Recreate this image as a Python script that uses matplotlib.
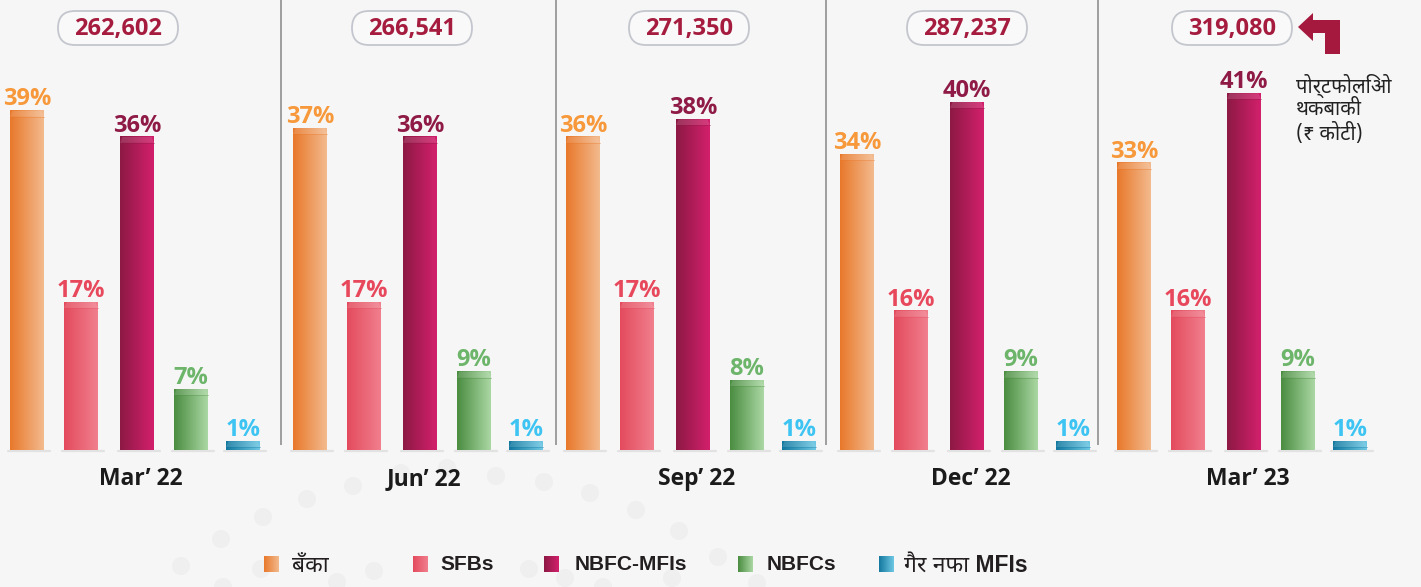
import numpy as np
import matplotlib
matplotlib.use("Agg")
import matplotlib.pyplot as plt
from matplotlib.colors import LinearSegmentedColormap, to_rgb
from matplotlib.patches import FancyBboxPatch, Polygon, Circle

# ---------------- data ----------------
periods = ["Mar’ 22", "Jun’ 22", "Sep’ 22", "Dec’ 22", "Mar’ 23"]
totals = [262602, 266541, 271350, 287237, 319080]
series_names = ["बँका", "SFBs", "NBFC-MFIs", "NBFCs", "गैर नफा MFIs"]
banks = [39, 37, 36, 34, 33]
sfbs = [17, 17, 17, 16, 16]
nbfc_mfis = [36, 36, 38, 40, 41]
nbfcs = [7, 9, 8, 9, 9]
non_profit_mfis = [1, 1, 1, 1, 1]
note_text = "पोर्टफोलिओ\nथकबाकी\n(₹ कोटी)"

series_values = [banks, sfbs, nbfc_mfis, nbfcs, non_profit_mfis]

# ---------------- styles ----------------
grad_left = ["#E8782A", "#E34B5D", "#8C1944", "#4A8C40", "#13789F"]
grad_right = ["#F3BA8E", "#F17F8E", "#D3206C", "#ABD8A4", "#6FC8E4"]
label_colors = ["#F7983A", "#E8485C", "#8E1A45", "#6DB56B", "#3EC4F2"]
BG = "#f6f6f6"

# ---------------- layout (pixels) ----------------
W, H = 1421, 587
BASE_Y = 450          # baseline pixel row (from top)
PX_PER_PCT = 8.7      # vertical scale
group_x = [137, 420, 693, 967, 1244]
bar_offsets = [-110, -56, 0, 54, 106]
bar_w = 34
pill_x = [118, 412, 689, 967, 1232]
sep_x = [281, 556, 826, 1098]
legend_sq_x = [264, 413, 544, 738, 879]
legend_tx_x = [292, 440, 575, 767, 904]
legend_sizes = [16.5, 15, 15, 15, 16.5]
dots = [(181, 566), (221, 539), (263, 517), (307, 499), (353, 486), (401, 473),
        (447, 468), (496, 476), (544, 482), (590, 493), (636, 510), (679, 531),
        (718, 557), (757, 583), (223, 587), (261, 569), (337, 582), (374, 571),
        (529, 569), (565, 578), (603, 587), (672, 578)]

NUM_FONT = ["Open Sans", "Noto Sans", "DejaVu Sans"]
DEV_FONT = ["Noto Sans Devanagari", "Lohit Devanagari", "FreeSans", "Noto Sans",
            "Liberation Sans", "DejaVu Sans"]
LEG_FONT = ["Liberation Sans", "Noto Sans Devanagari", "Lohit Devanagari",
            "FreeSans", "Noto Sans", "DejaVu Sans"]

fig = plt.figure(figsize=(W / 100, H / 100), dpi=100)
fig.patch.set_facecolor(BG)

# background / decoration axes in pixel coordinates (y downward)
bg = fig.add_axes([0, 0, 1, 1])
bg.set_xlim(0, W)
bg.set_ylim(H, 0)
bg.axis("off")

# data axes: x in layout pixels, y in percent
ax = fig.add_axes([0, 0, 1, 1])
ax.axis("off")
ylo, yhi = -(H - BASE_Y) / PX_PER_PCT, BASE_Y / PX_PER_PCT

grad = np.linspace(0, 1, 256).reshape(1, -1)


def make_cmap(i, lighten=0.0):
    l = np.array(to_rgb(grad_left[i]))
    r = np.array(to_rgb(grad_right[i]))
    l = l + (1 - l) * lighten
    r = r + (1 - r) * lighten
    return LinearSegmentedColormap.from_list(f"c{i}_{lighten}", [l, r])


# decorative dots
for (dx, dy) in dots:
    bg.add_patch(Circle((dx, dy), 9, color="#efefef", zorder=0, lw=0))

# separators
bg.vlines(sep_x, 0, 445, color="#8f8f8f", lw=1.2, zorder=1)

cap_h = 6 / PX_PER_PCT
inset = 2.5

for i, vals in enumerate(series_values):
    xs = [g + bar_offsets[i] for g in group_x]
    rects = ax.bar(xs, vals, width=bar_w, color="none", lw=0, zorder=2)
    cmap = make_cmap(i)
    cmap_cap = make_cmap(i, 0.12)
    for r, v in zip(rects, vals):
        x0, w, h = r.get_x(), r.get_width(), r.get_height()
        # soft shadow
        ax.plot([x0 - 2, x0 + w + 6], [-0.08, -0.08], color="#e2e2e2", lw=1.6,
                solid_capstyle="round", zorder=1)
        ax.imshow(grad, cmap=cmap, extent=[x0, x0 + w, 0, h], aspect="auto",
                  interpolation="bilinear", zorder=2)
        ch = min(cap_h, h * 0.7)
        cap = Polygon([(x0, h - ch), (x0 + inset, h), (x0 + w - inset, h),
                       (x0 + w, h - ch)], closed=True, fc="none", ec="none")
        ax.add_patch(cap)
        im = ax.imshow(grad, cmap=cmap_cap, extent=[x0, x0 + w, h - ch, h],
                       aspect="auto", interpolation="bilinear", zorder=3)
        im.set_clip_path(cap)
        ax.plot([x0, x0 + w], [h - ch, h - ch], color=grad_left[i], lw=0.7,
                alpha=0.35, zorder=3.5)
        ax.annotate(f"{v}%", (x0 + w / 2, h), xytext=(0, 3.8),
                    textcoords="offset points", ha="center", va="baseline",
                    fontsize=17, fontweight="bold", color=label_colors[i],
                    family=NUM_FONT, zorder=4)

ax.set_xlim(0, W)
ax.set_ylim(ylo, yhi)

# group labels
for gx, p in zip(group_x, periods):
    bg.text(gx + 4, 479, p, ha="center", va="center", fontsize=16.5,
            fontweight="bold", color="#1b1b1b", family=NUM_FONT, zorder=3)

# total pills
for px, t in zip(pill_x, totals):
    bg.add_patch(FancyBboxPatch((px - 60, 11), 120, 34,
                                boxstyle="round,pad=0,rounding_size=17",
                                fc="#f9f9f9", ec="#c4c6ce", lw=1.3, zorder=3))
    bg.text(px, 29, f"{t:,}", ha="center", va="center", fontsize=17,
            fontweight="bold", color="#A51C3F", family=NUM_FONT, zorder=4)

# arrow
arrow_pts = [(1298, 27), (1313, 13), (1313, 20), (1340, 20), (1340, 54),
             (1325, 54), (1325, 33), (1313, 33), (1313, 41)]
bg.add_patch(Polygon(arrow_pts, closed=True, fc="#A6193F", ec="none", zorder=3))

bg.text(1296, 74, note_text, ha="left", va="top", fontsize=14.5,
        fontweight="bold", color="#222222", family=DEV_FONT,
        linespacing=1.15, zorder=3)

# legend
for i, name in enumerate(series_names):
    sx = legend_sq_x[i]
    bg.imshow(grad, cmap=make_cmap(i), extent=[sx, sx + 15, 572, 556],
              aspect="auto", interpolation="bilinear", zorder=3)
    bg.text(legend_tx_x[i], 565, name, ha="left", va="center",
            fontsize=legend_sizes[i], fontweight="bold", color="#231f20",
            family=LEG_FONT, zorder=3)

bg.set_xlim(0, W)
bg.set_ylim(H, 0)

fig.savefig("out.png", dpi=100, facecolor=BG)
